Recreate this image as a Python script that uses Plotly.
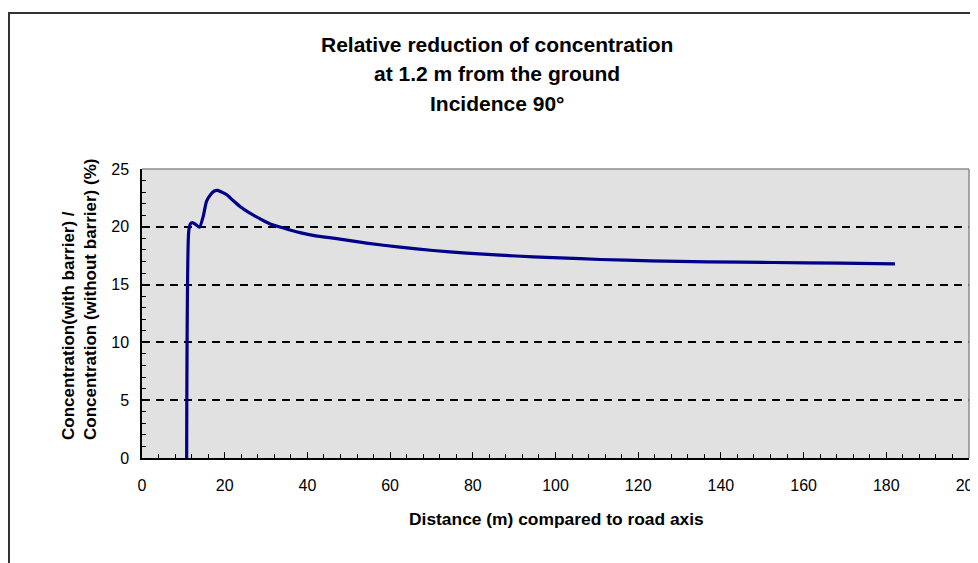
import plotly.graph_objects as go

distance_m = [10.8, 11.3, 11.7, 12.2, 13.0, 13.9, 14.8, 15.6, 16.6, 17.5, 18.3, 19.3, 20.5,
              22.1, 23.7, 26.0, 28.5, 31.0, 34.2, 38.2, 42.0, 46.3, 50.3, 54.3, 62.4, 70.4,
              78.5, 86.6, 94.6, 101.0, 110.8, 122.9, 136.6, 152.7, 168.8, 182.1]
ratio_pct = [0.0, 19.6, 20.25, 20.37, 20.2, 19.97, 20.9, 22.2, 22.8, 23.1, 23.15, 23.0, 22.77,
             22.25, 21.76, 21.2, 20.7, 20.25, 19.9, 19.5, 19.22, 19.02, 18.8, 18.59, 18.24,
             17.95, 17.72, 17.55, 17.40, 17.32, 17.17, 17.06, 16.97, 16.91, 16.86, 16.8]

title_lines = ["Relative reduction of concentration", "at 1.2 m from the ground", "Incidence 90°"]
x_title = "Distance (m) compared to road axis"
y_title_lines = ["Concentration(with barrier) /", "Concentration (without barrier) (%)"]

FONT = "Liberation Sans, Arial, sans-serif"

# page body has an 8px margin: work in screen pixels and shift by OFF
OFF = 8
W, H = 978 - OFF, 563 - OFF
L, R, T, B = 142 - OFF, 969 - OFF, 169 - OFF, 458 - OFF


def px_x(p):
    return (p - OFF - L) / (R - L)


def px_y(p):
    return (B - (p - OFF)) / (B - T)


fig = go.Figure()
fig.add_trace(go.Scatter(
    x=distance_m, y=ratio_pct, mode="lines",
    line=dict(color="#000088", width=3.2, shape="spline", smoothing=0.6),
    showlegend=False, hoverinfo="skip",
))

fig.update_layout(
    width=W, height=H,
    margin=dict(l=L, r=W - R, t=T, b=H - B, autoexpand=False),
    paper_bgcolor="white", plot_bgcolor="#e1e1e1",
    font=dict(family=FONT, size=16, color="black"),
    showlegend=False,
)

fig.update_xaxes(
    range=[0, 200], tickmode="linear", tick0=0, dtick=20,
    ticks="inside", ticklen=6, tickcolor="black", tickwidth=1,
    minor=dict(dtick=4, ticks="inside", ticklen=4, tickcolor="black"),
    showline=True, linecolor="black", linewidth=1.5,
    showgrid=False, zeroline=False, automargin=False,
    tickfont=dict(size=16), ticklabelstandoff=12, ticklabeloverflow="allow",
)
fig.update_yaxes(
    range=[0, 25], tickmode="linear", tick0=0, dtick=5,
    ticks="inside", ticklen=6, tickcolor="black", tickwidth=1,
    minor=dict(dtick=1, ticks="inside", ticklen=4, tickcolor="black"),
    showline=True, linecolor="black", linewidth=1.5,
    showgrid=True, gridcolor="black", griddash="8px,6px", gridwidth=1.5,
    zeroline=False, automargin=False,
    tickfont=dict(size=16), ticklabelstandoff=8,
)

# title lines
for line, yc in zip(title_lines, [44, 73, 103]):
    fig.add_annotation(text="<b>" + line + "</b>", xref="paper", yref="paper",
                       x=px_x(497), y=px_y(yc), xanchor="center", yanchor="middle",
                       showarrow=False, font=dict(family=FONT, size=21, color="black"))
# x-axis title
fig.add_annotation(text="<b>" + x_title + "</b>", xref="paper", yref="paper",
                   x=px_x(556), y=px_y(519), xanchor="center", yanchor="middle",
                   showarrow=False, font=dict(family=FONT, size=17.4, color="black"))
# y-axis title (two lines, rotated, bottom-aligned)
fig.add_annotation(text="<b>" + "<br>".join(y_title_lines) + "</b>", xref="paper", yref="paper",
                   x=px_x(79), y=px_y(300), xanchor="center", yanchor="middle",
                   textangle=-90, align="left",
                   showarrow=False, font=dict(family=FONT, size=17, color="black"))

# gray frame on top and right of plot area
fig.add_shape(type="line", xref="paper", yref="paper", x0=0, x1=1, y0=1, y1=1,
              line=dict(color="#8c8c8c", width=1.5), layer="above")
fig.add_shape(type="line", xref="paper", yref="paper", x0=1, x1=1, y0=0, y1=1,
              line=dict(color="#8c8c8c", width=1.5), layer="above")
# outer figure border
fig.add_shape(type="rect", xref="paper", yref="paper",
              x0=px_x(9), x1=px_x(990), y0=px_y(580), y1=px_y(13),
              line=dict(color="#333333", width=2), layer="above")

fig.write_html("out.html")
